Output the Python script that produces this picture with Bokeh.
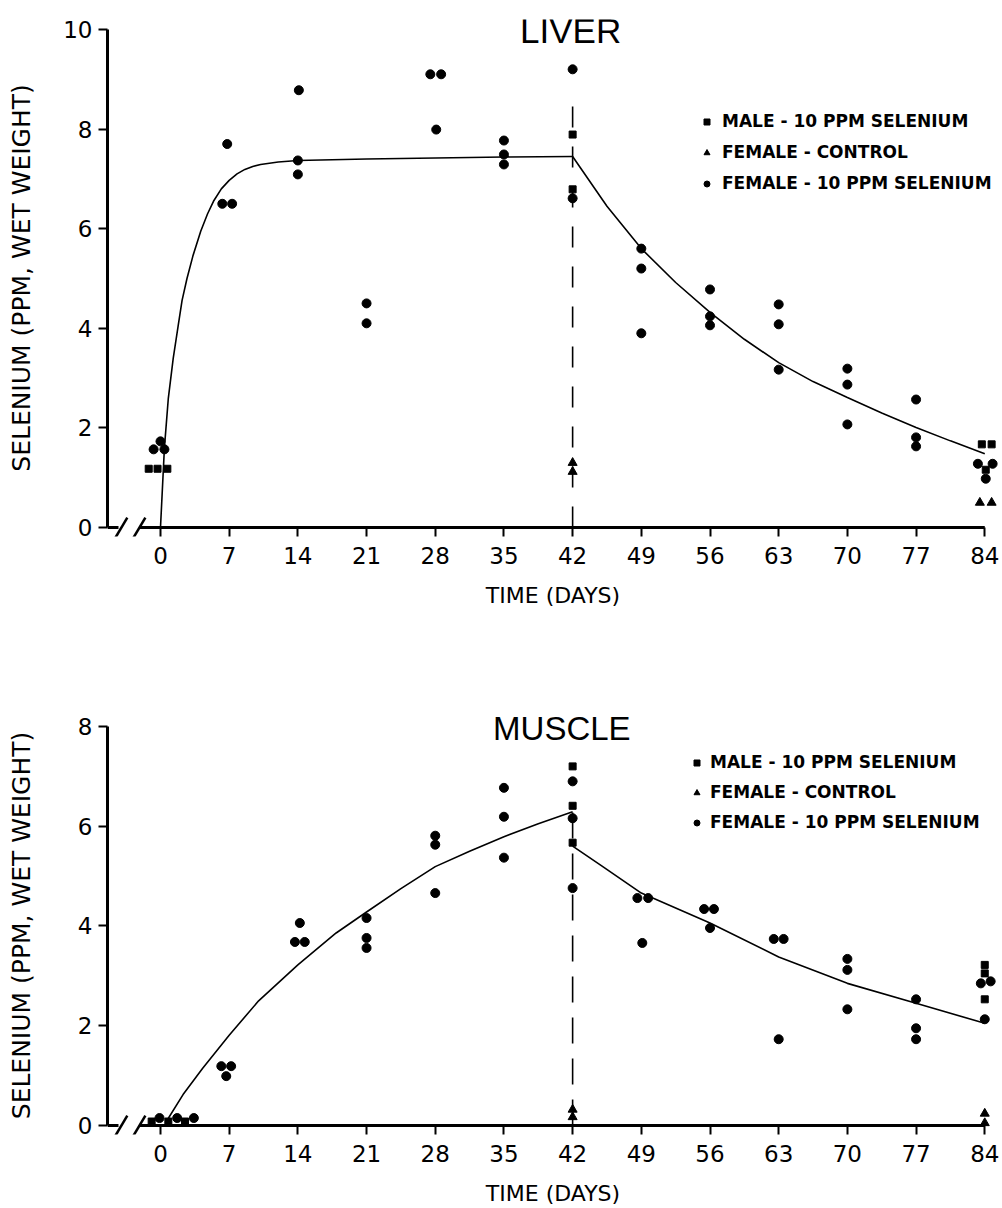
from bokeh.plotting import figure
from bokeh.layouts import column
from bokeh.models import Range1d, FixedTicker, Label, Legend, LegendItem
from bokeh.embed import file_html
from bokeh.resources import INLINE

# ---------------- data ----------------
DAY_TICKS = [0, 7, 14, 21, 28, 35, 42, 49, 56, 63, 70, 77, 84]
LIVER_Y_TICKS = [0, 2, 4, 6, 8, 10]
MUSCLE_Y_TICKS = [0, 2, 4, 6, 8]
LEGEND_LABELS = ["MALE - 10 PPM SELENIUM", "FEMALE - CONTROL", "FEMALE - 10 PPM SELENIUM"]

# Liver
LIVER_FEM_X = [-0.7, 0.0, 0.4, 6.3, 6.8, 7.3, 14.0, 14.0, 14.1, 21.0, 21.0, 27.5, 28.1, 28.6,
               35.0, 35.0, 35.0, 42.0, 42.0, 49.0, 49.0, 49.0, 56.0, 56.0, 56.0, 63.0, 63.0, 63.0,
               70.0, 70.0, 70.0, 77.0, 77.0, 77.0, 83.3, 84.1, 84.8]
LIVER_FEM_Y = [1.57, 1.73, 1.57, 6.5, 7.7, 6.5, 7.37, 7.09, 8.78, 4.5, 4.1, 9.1, 7.99, 9.1,
               7.77, 7.49, 7.29, 9.2, 6.61, 5.6, 5.2, 3.9, 4.78, 4.24, 4.06, 4.48, 4.08, 3.17,
               3.19, 2.87, 2.07, 2.57, 1.81, 1.63, 1.28, 0.98, 1.28]
LIVER_MALE_X = [-1.2, -0.3, 0.7, 42.0, 42.0, 83.7, 84.7, 84.1]
LIVER_MALE_Y = [1.18, 1.18, 1.18, 7.89, 6.79, 1.67, 1.67, 1.16]
LIVER_CTL_X = [42.0, 42.0, 83.5, 84.7]
LIVER_CTL_Y = [1.3, 1.12, 0.5, 0.5]
LIVER_RISE_X = [0, 0.4, 0.8, 1.3, 1.8, 2.2, 2.7, 3.3, 4.1, 4.8, 5.4, 6.2, 7.0, 7.8, 8.6, 9.4,
                10.2, 12, 14, 21, 28, 35, 42]
LIVER_RISE_Y = [0, 1.6, 2.6, 3.4, 4.05, 4.56, 5.0, 5.45, 5.95, 6.3, 6.55, 6.8, 6.97, 7.1, 7.19,
                7.25, 7.29, 7.34, 7.37, 7.4, 7.42, 7.44, 7.45]
LIVER_FALL_X = [42, 45.5, 49, 52.5, 56, 59.5, 63, 66.5, 70, 73.5, 77, 80.5, 84]
LIVER_FALL_Y = [7.45, 6.45, 5.6, 4.92, 4.32, 3.78, 3.31, 2.93, 2.61, 2.3, 2.01, 1.74, 1.48]
LIVER_DASH_Y = [0, 8.65]

# Muscle
MUSCLE_FEM_X = [-0.1, 1.7, 3.4, 6.2, 7.2, 6.7, 14.2, 13.7, 14.7, 21, 21, 21, 28, 28, 28,
                35, 35, 35, 42, 42, 42, 48.6, 49.7, 49.1, 55.4, 56.4, 56.0, 62.5, 63.5, 63,
                70, 70, 70, 77, 77, 77, 83.6, 84.6, 84]
MUSCLE_FEM_Y = [0.15, 0.15, 0.15, 1.19, 1.19, 0.99, 4.06, 3.68, 3.68, 4.16, 3.76, 3.56,
                5.81, 5.63, 4.66, 6.77, 6.19, 5.37, 6.9, 6.16, 4.76, 4.56, 4.56, 3.66,
                4.34, 4.34, 3.96, 3.74, 3.74, 1.73, 3.34, 3.12, 2.33, 2.53, 1.95, 1.73,
                2.85, 2.89, 2.13]
MUSCLE_MALE_X = [-0.9, 0.8, 2.5, 42, 42, 42, 84, 84, 84]
MUSCLE_MALE_Y = [0.08, 0.08, 0.08, 7.2, 6.41, 5.67, 3.22, 3.05, 2.53]
MUSCLE_CTL_X = [42, 42, 84, 84]
MUSCLE_CTL_Y = [0.32, 0.17, 0.24, 0.05]
MUSCLE_RISE_X = [0.5, 2.3, 4.3, 7, 10, 14, 17.9, 21, 24.5, 28, 31.5, 35, 38.5, 42]
MUSCLE_RISE_Y = [0.05, 0.62, 1.15, 1.81, 2.5, 3.22, 3.86, 4.28, 4.75, 5.19, 5.5, 5.79, 6.05, 6.29]
MUSCLE_FALL_X = [42, 45, 49, 56, 63, 70, 77, 84]
MUSCLE_FALL_Y = [5.6, 5.2, 4.66, 4.06, 3.38, 2.85, 2.45, 2.05]
MUSCLE_DASH_Y = [0, 6.4]

# ---------------- layout constants ----------------
X_START, X_END = -5.4, 85.4
Y_START = -0.18
AXIS_START = -2.14           # axis resumes after the break
STUB_END = -4.28             # left stub of the broken axis
SLASH_CENTERS = [-3.98, -2.14]
X_AXIS_BOUNDS = (-1.4, 84)   # centres the "TIME (DAYS)" caption
FIG_W = 1000
LEFT = 107
FRAME_W = 891
TXT = "DejaVu Sans"
NUM = "DejaVu Sans"
TITLE_FONT = "Liberation Sans"


def make_panel(title, title_x, title_y, title_size, y_end, y_ticks, fem, male, ctl, rise, fall,
               dash_y, dash_pattern, height, top, frame_h, legend_loc, legend_standoff,
               ylabel_standoff, legend_spacing):
    p = figure(width=FIG_W, height=height,
               x_range=Range1d(X_START, X_END), y_range=Range1d(Y_START, y_end),
               output_backend="svg", toolbar_location=None,
               min_border_left=LEFT, min_border_right=FIG_W - LEFT - FRAME_W,
               min_border_top=top, min_border_bottom=height - top - frame_h)
    p.outline_line_color = None
    p.xgrid.grid_line_color = None
    p.ygrid.grid_line_color = None
    p.background_fill_color = "white"
    p.border_fill_color = "white"

    xa = p.xaxis[0]
    xa.bounds = X_AXIS_BOUNDS
    xa.axis_line_color = None
    xa.ticker = FixedTicker(ticks=DAY_TICKS)
    xa.minor_tick_line_color = None
    xa.major_tick_in = 9
    xa.major_tick_out = 0
    xa.major_tick_line_width = 2
    xa.major_tick_line_color = "black"
    xa.major_label_text_font = NUM
    xa.major_label_text_font_size = "23px"
    xa.major_label_text_color = "black"
    xa.major_label_standoff = 10
    xa.axis_label = "TIME (DAYS)"
    xa.axis_label_text_font = TXT
    xa.axis_label_text_font_size = "22px"
    xa.axis_label_text_font_style = "normal"
    xa.axis_label_text_color = "black"
    xa.axis_label_standoff = 16

    ya = p.yaxis[0]
    ya.bounds = (0, y_ticks[-1])
    ya.ticker = FixedTicker(ticks=y_ticks)
    ya.minor_tick_line_color = None
    ya.major_tick_in = 0
    ya.major_tick_out = 9
    ya.major_tick_line_width = 2
    ya.major_tick_line_color = "black"
    ya.axis_line_width = 3
    ya.axis_line_color = "black"
    ya.major_label_text_font = NUM
    ya.major_label_text_font_size = "23px"
    ya.major_label_text_color = "black"
    ya.major_label_standoff = 6
    ya.axis_label = "SELENIUM (PPM, WET WEIGHT)"
    ya.axis_label_text_font = TXT
    ya.axis_label_text_font_size = "25px"
    ya.axis_label_text_font_style = "normal"
    ya.axis_label_text_color = "black"
    ya.axis_label_standoff = ylabel_standoff

    # x axis line at y = 0 with a break near the origin
    p.segment(x0=[X_START, AXIS_START], y0=[0, 0], x1=[STUB_END, 84], y1=[0, 0],
              line_color="black", line_width=3)
    p.segment(x0=[c - 0.6 for c in SLASH_CENTERS], y0=[-0.2, -0.2],
              x1=[c + 0.6 for c in SLASH_CENTERS], y1=[0.2, 0.2],
              line_color="black", line_width=2.5)

    # dashed line at end of exposure
    p.line([42, 42], dash_y, line_color="black", line_width=1.6, line_dash=dash_pattern)

    # fitted curves
    p.line(rise[0], rise[1], line_color="black", line_width=1.6)
    p.line(fall[0], fall[1], line_color="black", line_width=1.6)

    rs = p.scatter(male[0], male[1], marker="square", size=7, color="black")
    rt = p.scatter(ctl[0], ctl[1], marker="triangle", size=9, color="black")
    rc = p.scatter(fem[0], fem[1], marker="circle", size=9, color="black")

    legend = Legend(items=[LegendItem(label=LEGEND_LABELS[0], renderers=[rs]),
                           LegendItem(label=LEGEND_LABELS[1], renderers=[rt]),
                           LegendItem(label=LEGEND_LABELS[2], renderers=[rc])],
                    location=legend_loc)
    legend.border_line_color = None
    legend.background_fill_alpha = 0
    legend.padding = 0
    legend.margin = 0
    legend.spacing = legend_spacing
    legend.glyph_width = 15
    legend.glyph_height = 15
    legend.label_height = 20
    legend.label_standoff = legend_standoff
    legend.label_text_font = TXT
    legend.label_text_font_style = "bold"
    legend.label_text_font_size = "17px"
    legend.label_text_color = "black"
    p.add_layout(legend)

    p.add_layout(Label(x=title_x, y=title_y, text=title, text_align="center",
                       text_baseline="middle", text_font=TITLE_FONT,
                       text_font_size=title_size, text_color="black"))
    return p


p1 = make_panel("LIVER", 41.8, 9.98, "35px", 10.2, LIVER_Y_TICKS,
                (LIVER_FEM_X, LIVER_FEM_Y), (LIVER_MALE_X, LIVER_MALE_Y),
                (LIVER_CTL_X, LIVER_CTL_Y), (LIVER_RISE_X, LIVER_RISE_Y),
                (LIVER_FALL_X, LIVER_FALL_Y), LIVER_DASH_Y, "21 19",
                height=640, top=19, frame_h=517, legend_loc=(592, 343),
                legend_standoff=8, ylabel_standoff=24, legend_spacing=11)

p2 = make_panel("MUSCLE", 40.9, 7.96, "33px", 8.2, MUSCLE_Y_TICKS,
                (MUSCLE_FEM_X, MUSCLE_FEM_Y), (MUSCLE_MALE_X, MUSCLE_MALE_Y),
                (MUSCLE_CTL_X, MUSCLE_CTL_Y), (MUSCLE_RISE_X, MUSCLE_RISE_Y),
                (MUSCLE_FALL_X, MUSCLE_FALL_Y), MUSCLE_DASH_Y, "26 15",
                height=568, top=76, frame_h=418, legend_loc=(582, 302),
                legend_standoff=6, ylabel_standoff=39, legend_spacing=10)

layout = column(p1, p2, spacing=0)
open("out.html", "w").write(file_html(layout, INLINE))
